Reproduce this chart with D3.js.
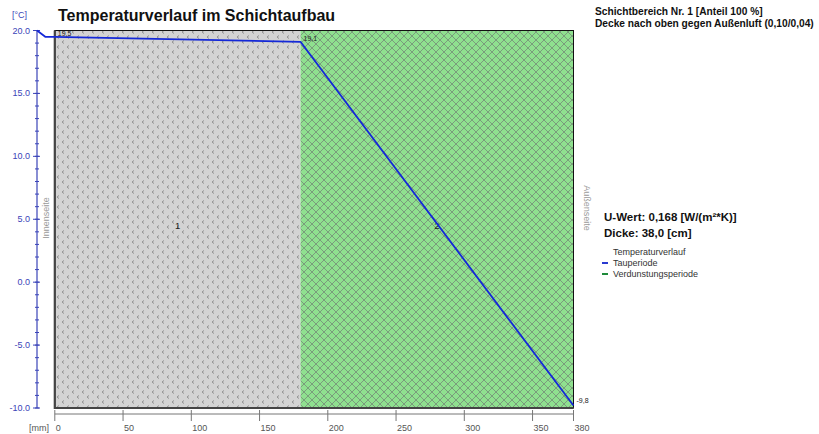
<!DOCTYPE html>
<html>
<head>
<meta charset="utf-8">
<script src="https://cdn.jsdelivr.net/npm/d3@7"></script>
<style>
  html, body { margin: 0; padding: 0; background: #fff; }
  svg { display: block; font-family: "Liberation Sans", Arial, sans-serif; }
</style>
</head>
<body>
<svg id="chart" width="819" height="434"></svg>
<script>
// Layers of the construction (mm from the inner side)
const layerNames = ["1", "2"];
const layerStart = [0, 180];
const layerEnd = [180, 380];
const layerFill = ["dots", "hatch"];

// Temperature profile through the build-up (position in mm, temperature in °C)
const profilePos = [-13, -7, 0, 180, 380];
const profileTemp = [20.0, 19.5, 19.5, 19.1, -9.8];

// Temperatures printed at the layer boundaries
const boundaryPos = [0, 180, 380];
const boundaryTemp = [19.5, 19.1, -9.8];
const boundaryText = ["19,5", "19,1", "-9,8"];

// Axis ticks
const yMajor = [20, 15, 10, 5, 0, -5, -10];
const yMinor = d3.range(-10, 20.01, 1);
const xTicks = [0, 50, 100, 150, 200, 250, 300, 350, 380];

const infoLines = ["Schichtbereich Nr. 1 [Anteil 100 %]", "Decke nach oben gegen Außenluft (0,10/0,04)"];
const legendItems = [
  { label: "Temperaturverlauf", color: null },
  { label: "Tauperiode", color: "#2a3ad0" },
  { label: "Verdunstungsperiode", color: "#1e8a3a" }
];

const svg = d3.select("#chart");

const x = d3.scaleLinear().domain([0, 380]).range([54.8, 573.5]);
const y = d3.scaleLinear().domain([-10, 20]).range([408, 30.5]);

// Fill patterns
const defs = svg.append("defs");
const dots = defs.append("pattern").attr("id", "dots")
  .attr("patternUnits", "userSpaceOnUse").attr("width", 10).attr("height", 10);
dots.append("rect").attr("width", 10).attr("height", 10).attr("fill", "#d3d3d3");
[[2, 2], [7, 7]].forEach(([px, py]) => {
  dots.append("path")
    .attr("d", `M${px + 2},${py - 1.5} L${px},${py} L${px + 2},${py + 1.5}`)
    .attr("fill", "none").attr("stroke", "#8a8a8a").attr("stroke-width", 0.9);
});

const hp = 8;
const hatch = defs.append("pattern").attr("id", "hatch")
  .attr("patternUnits", "userSpaceOnUse").attr("width", hp).attr("height", hp);
hatch.append("rect").attr("width", hp).attr("height", hp).attr("fill", "#8fe08f");
hatch.append("path").attr("d", `M-1,-1 L${hp + 1},${hp + 1} M${hp + 1},-1 L-1,${hp + 1}`)
  .attr("stroke", "#7a9d7c").attr("stroke-width", 1);

// Layers
svg.append("g").selectAll("rect").data(layerNames).join("rect")
  .attr("x", (d, i) => x(layerStart[i]))
  .attr("y", y(20))
  .attr("width", (d, i) => x(layerEnd[i]) - x(layerStart[i]))
  .attr("height", y(-10) - y(20))
  .attr("fill", (d, i) => `url(#${layerFill[i]})`);

svg.append("g").selectAll("text").data(layerNames).join("text")
  .attr("x", (d, i) => x((layerStart[i] + layerEnd[i]) / 2))
  .attr("y", 229)
  .attr("text-anchor", "middle")
  .attr("font-size", 9.5).attr("fill", "#222")
  .text(d => d);

// Frame of the build-up
svg.append("rect")
  .attr("x", x(0)).attr("y", y(20))
  .attr("width", x(380) - x(0)).attr("height", y(-10) - y(20))
  .attr("fill", "none").attr("stroke", "#111").attr("stroke-width", 1);
svg.append("path")
  .attr("d", `M${x(0)},${y(20)} V${y(-10)} H${x(380)}`)
  .attr("fill", "none").attr("stroke", "#444").attr("stroke-width", 2.2);

// Side labels
svg.append("text")
  .attr("transform", `translate(49,218) rotate(-90)`)
  .attr("text-anchor", "middle").attr("font-size", 9).attr("fill", "#9a9a9a")
  .text("Innenseite");
svg.append("text")
  .attr("transform", `translate(584,208) rotate(90)`)
  .attr("text-anchor", "middle").attr("font-size", 9).attr("fill", "#9a9a9a")
  .text("Außenseite");

// Y axis (temperature)
const axisBlue = "#3a44b8";
const yAxis = svg.append("g");
yAxis.append("line").attr("x1", 37).attr("x2", 37)
  .attr("y1", y(20)).attr("y2", y(-10))
  .attr("stroke", axisBlue).attr("stroke-width", 1.2);
yAxis.selectAll("line.minor").data(yMinor).join("line").attr("class", "minor")
  .attr("x1", 35).attr("x2", 39)
  .attr("y1", d => y(d)).attr("y2", d => y(d))
  .attr("stroke", axisBlue).attr("stroke-width", 1);
yAxis.selectAll("line.major").data(yMajor).join("line").attr("class", "major")
  .attr("x1", 33).attr("x2", 40)
  .attr("y1", d => y(d)).attr("y2", d => y(d))
  .attr("stroke", axisBlue).attr("stroke-width", 1);
yAxis.selectAll("text").data(yMajor).join("text")
  .attr("x", 30).attr("y", d => y(d) + 3)
  .attr("text-anchor", "end").attr("font-size", 9).attr("fill", axisBlue)
  .text(d => d.toFixed(1));
svg.append("text").attr("x", 12).attr("y", 18)
  .attr("font-size", 9).attr("fill", axisBlue).text("[°C]");

// X axis (position)
const xAxis = svg.append("g");
xAxis.append("line").attr("x1", x(0)).attr("x2", x(380))
  .attr("y1", 414).attr("y2", 414)
  .attr("stroke", "#777").attr("stroke-width", 1);
xAxis.selectAll("line.tick").data(xTicks).join("line").attr("class", "tick")
  .attr("x1", d => x(d)).attr("x2", d => x(d))
  .attr("y1", 410).attr("y2", 421)
  .attr("stroke", "#777").attr("stroke-width", 1);
xAxis.selectAll("text").data(xTicks).join("text")
  .attr("x", d => x(d) + 1).attr("y", 431)
  .attr("font-size", 9).attr("fill", "#555")
  .text(d => d);
svg.append("text").attr("x", 29).attr("y", 431)
  .attr("font-size", 9).attr("fill", "#555").text("[mm]");

// Temperature curve
const line = d3.line()
  .x((d, i) => x(profilePos[i]))
  .y(d => y(d));
svg.append("path")
  .datum(profileTemp)
  .attr("d", line)
  .attr("fill", "none").attr("stroke", "#1428d8").attr("stroke-width", 1.8)
  .attr("stroke-linejoin", "round");

// Boundary temperature values
svg.append("g").selectAll("text").data(boundaryTemp).join("text")
  .attr("x", (d, i) => x(boundaryPos[i]) + 3)
  .attr("y", (d, i) => i === 2 ? y(d) - 2 : y(d) - 1)
  .attr("font-size", 7).attr("fill", "#222")
  .text((d, i) => boundaryText[i]);

// Title
svg.append("text").attr("x", 58).attr("y", 21)
  .attr("font-size", 16).attr("font-weight", "bold").attr("fill", "#111")
  .text("Temperaturverlauf im Schichtaufbau");

// Info text on the right
svg.append("g").selectAll("text").data(infoLines).join("text")
  .attr("x", 595).attr("y", (d, i) => 15 + i * 11.5)
  .attr("font-size", 10.2).attr("font-weight", "bold").attr("fill", "#111")
  .text(d => d);

svg.append("text").attr("x", 604).attr("y", 221)
  .attr("font-size", 11.5).attr("font-weight", "bold").attr("fill", "#111")
  .text("U-Wert: 0,168 [W/(m²*K)]");
svg.append("text").attr("x", 604).attr("y", 237)
  .attr("font-size", 11.5).attr("font-weight", "bold").attr("fill", "#111")
  .text("Dicke: 38,0 [cm]");

// Legend
const legend = svg.append("g");
legend.selectAll("text").data(legendItems).join("text")
  .attr("x", 613).attr("y", (d, i) => 255 + i * 11)
  .attr("font-size", 9).attr("fill", "#333")
  .text(d => d.label);
legend.selectAll("line").data(legendItems.filter(d => d.color)).join("line")
  .attr("x1", 602).attr("x2", 608)
  .attr("y1", (d, i) => 263 + i * 11).attr("y2", (d, i) => 263 + i * 11)
  .attr("stroke", d => d.color).attr("stroke-width", 2);
</script>
</body>
</html>
